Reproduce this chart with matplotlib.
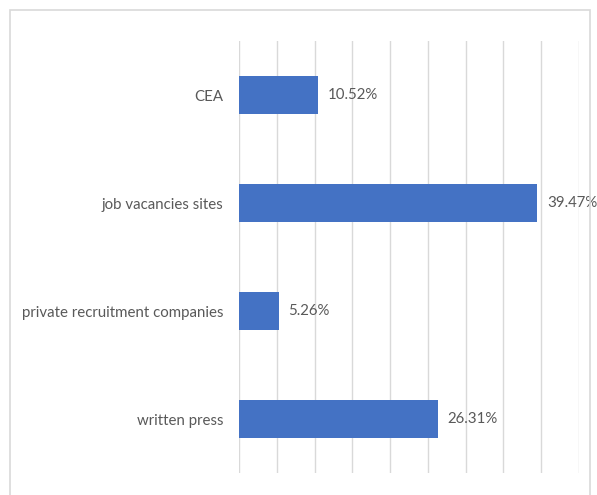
import matplotlib
matplotlib.use("Agg")
import matplotlib.pyplot as plt
from matplotlib.patches import Rectangle

categories = ["CEA", "job vacancies sites", "private recruitment companies", "written press"]
values = [10.52, 39.47, 5.26, 26.31]
value_labels = ["10.52%", "39.47%", "5.26%", "26.31%"]
x_ticks = [0, 5, 10, 15, 20, 25, 30, 35, 40, 45]

plt.rcParams["font.family"] = ["Lato", "DejaVu Sans"]

W, H = 597, 495
fig = plt.figure(figsize=(W / 100, H / 100), dpi=100)
fig.patch.set_facecolor("white")

# light frame around the chart area
fig.patches.append(Rectangle((10 / W, -0.02), 580 / W, 1.02 - 10 / H,
                             transform=fig.transFigure, fill=False,
                             edgecolor="#d9d9d9", linewidth=1.2))

ax = fig.add_axes([239 / W, 1 - 473 / H, (579 - 239) / W, (473 - 41) / H])

y = list(range(len(categories)))
ax.barh(y, values, height=0.35, color="#4472C4", zorder=3)

ax.set_xlim(0, 45)
ax.set_ylim(len(categories) - 0.5, -0.5)
ax.set_xticks(x_ticks)
ax.xaxis.grid(True, color="#d9d9d9", linewidth=1, zorder=0)
ax.tick_params(axis="x", length=0, labelbottom=False)
ax.tick_params(axis="y", length=0, pad=11.5)
ax.set_yticks(y)
ax.set_yticklabels(categories, fontsize=10.8, color="#595959")
for s in ax.spines.values():
    s.set_visible(False)

for yi, v, lab in zip(y, values, value_labels):
    ax.annotate(lab, (v, yi), xytext=(7, 0), textcoords="offset points",
                va="center", ha="left", fontsize=10.8, color="#595959")

fig.savefig("out.png", dpi=100)
